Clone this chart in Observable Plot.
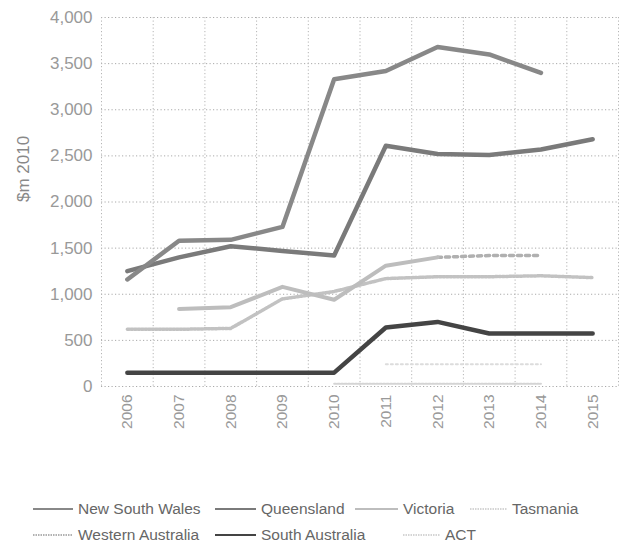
<!DOCTYPE html>
<html>
<head>
<meta charset="utf-8">
<script src="https://cdn.jsdelivr.net/npm/d3@7"></script>
<script src="https://cdn.jsdelivr.net/npm/@observablehq/plot@0.6"></script>
<style>
  body { margin: 0; background: #fff; font-family: "Liberation Sans", Arial, sans-serif; }
  #wrap { position: relative; width: 619px; height: 547px; }
  .leg { position: absolute; font-size: 15.5px; color: #666; white-space: nowrap; }
  .leg svg { position: absolute; }
</style>
</head>
<body>
<div id="wrap"><div id="chart"></div><div id="legend"></div></div>
<script>
const years = [2006, 2007, 2008, 2009, 2010, 2011, 2012, 2013, 2014, 2015];
const yTicks = [0, 500, 1000, 1500, 2000, 2500, 3000, 3500, 4000];
const yLabel = "$m 2010";

const nswValues = [1160, 1580, 1590, 1730, 3330, 3420, 3680, 3600, 3400, null];
const qldValues = [1250, 1400, 1520, 1470, 1420, 2610, 2520, 2510, 2570, 2680];
const vicValues = [null, 840, 860, 1080, 940, 1310, 1400, null, null, null];
const vicForecast = [null, null, null, null, null, null, 1400, 1420, 1420, null];
const waValues = [620, 620, 630, 950, 1030, 1170, 1190, 1190, 1200, 1180];
const saValues = [150, 150, 150, 150, 150, 640, 700, 575, 575, 575];
const tasValues = [null, null, null, null, null, 240, 240, 240, 240, null];
const actValues = [null, null, null, null, 30, 30, 30, 30, 30, null];

const legendNames = ["New South Wales", "Queensland", "Victoria", "Tasmania", "Western Australia", "South Australia", "ACT"];

function rows(vals) {
  return years.map((y, i) => ({year: y, value: vals[i]})).filter(d => d.value != null);
}

const gridX = d3.range(2005.5, 2016, 1);

const chart = Plot.plot({
  width: 619,
  height: 470,
  marginLeft: 101,
  marginRight: 1,
  marginTop: 17,
  marginBottom: 84,
  style: {fontFamily: "'Liberation Sans', Arial, sans-serif", color: "#999", background: "#fff"},
  x: {domain: [2005.5, 2015.5]},
  y: {domain: [0, 4000]},
  marks: [
    Plot.ruleY(yTicks, {stroke: "#aaa", strokeWidth: 1, strokeDasharray: "1.2,2.3"}),
    Plot.ruleX(gridX, {stroke: "#b5b5b5", strokeWidth: 1, strokeDasharray: "1.2,2.3"}),
    Plot.axisY({ticks: yTicks, tickFormat: d3.format(","), tickSize: 0, tickPadding: 9, fontSize: 17, fill: "#999", label: null}),
    Plot.axisX({ticks: years, tickFormat: d => String(d), tickRotate: -90, tickSize: 0, tickPadding: 8, fontSize: 15.5, fill: "#999", label: null}),
    Plot.text([yLabel], {frameAnchor: "left", rotate: -90, dx: -78, fontSize: 17, fill: "#888"}),
    Plot.line(rows(actValues), {x: "year", y: "value", stroke: "#d4d4d4", strokeWidth: 2, strokeDasharray: "2,1.5"}),
    Plot.line(rows(tasValues), {x: "year", y: "value", stroke: "#dcdcdc", strokeWidth: 2, strokeDasharray: "2,3"}),
    Plot.line(rows(waValues), {x: "year", y: "value", stroke: "#c2c2c2", strokeWidth: 3.5, strokeDasharray: "2,1.5"}),
    Plot.line(rows(vicForecast), {x: "year", y: "value", stroke: "#b0b0b0", strokeWidth: 3.5, strokeDasharray: "4,4"}),
    Plot.line(rows(vicValues), {x: "year", y: "value", stroke: "#bdbdbd", strokeWidth: 4}),
    Plot.line(rows(saValues), {x: "year", y: "value", stroke: "#444", strokeWidth: 4.5}),
    Plot.line(rows(qldValues), {x: "year", y: "value", stroke: "#7a7a7a", strokeWidth: 4.5}),
    Plot.line(rows(nswValues), {x: "year", y: "value", stroke: "#888", strokeWidth: 4.5})
  ]
});
document.getElementById("chart").appendChild(chart);

// legend
const legendStyles = [
  {stroke: "#888", w: 2, dash: null, lx: 33, tx: 78, y: 509},
  {stroke: "#7a7a7a", w: 2, dash: null, lx: 215, tx: 261, y: 509},
  {stroke: "#bdbdbd", w: 2, dash: null, lx: 355, tx: 403, y: 509},
  {stroke: "#c8c8c8", w: 1.5, dash: "1.5,1", lx: 470, tx: 512, y: 509},
  {stroke: "#999", w: 1.5, dash: "1.5,1", lx: 33, tx: 78, y: 535},
  {stroke: "#444", w: 2, dash: null, lx: 215, tx: 261, y: 535},
  {stroke: "#c8c8c8", w: 1.5, dash: "1.5,1", lx: 403, tx: 445, y: 535}
];
const leg = document.getElementById("legend");
legendNames.forEach((name, i) => {
  const s = legendStyles[i];
  const len = s.tx - s.lx - 5;
  const item = document.createElement("div");
  item.className = "leg";
  item.style.left = s.lx + "px";
  item.style.top = (s.y - 9) + "px";
  item.style.height = "18px";
  item.innerHTML = `<svg width="${len}" height="18" style="left:0;top:0"><line x1="0" x2="${len}" y1="9" y2="9" stroke="${s.stroke}" stroke-width="${s.w}" ${s.dash ? `stroke-dasharray="${s.dash}"` : ""}/></svg><span style="position:absolute;left:${len + 5}px;top:0;line-height:18px">${name}</span>`;
  leg.appendChild(item);
});
</script>
</body>
</html>
